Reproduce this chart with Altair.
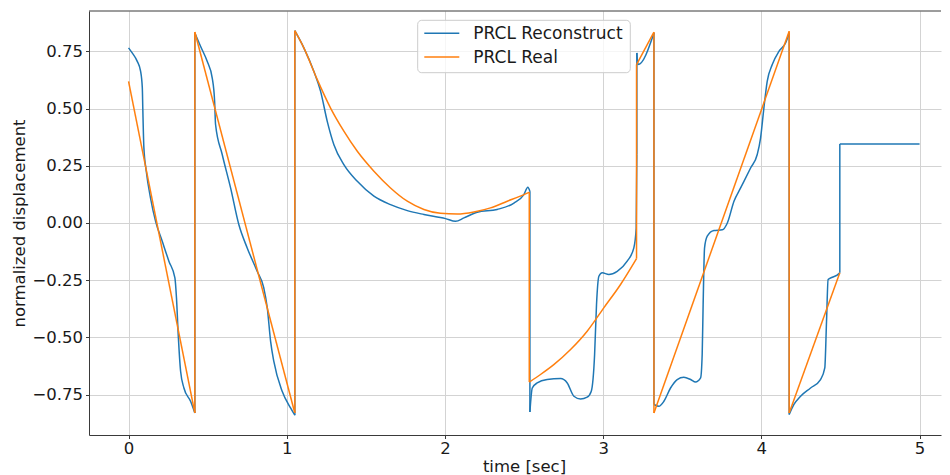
import altair as alt
import pandas as pd

# ---------------- data ----------------
SERIES = ["PRCL Reconstruct", "PRCL Real"]
COLORS = ["#1f77b4", "#ff7f0e"]

recon_t = [0.000, 0.023, 0.055, 0.076, 0.087, 0.090, 0.097, 0.112, 0.139, 0.171, 0.213, 0.255, 0.293, 0.303, 0.314, 0.329, 0.350, 0.392, 0.419,
           0.419, 0.455, 0.497, 0.529, 0.544, 0.550, 0.592, 0.645, 0.697, 0.750, 0.813, 0.855, 0.877, 0.898, 0.918, 0.971, 1.024, 1.051,
           1.051, 1.108, 1.171, 1.214, 1.256, 1.298, 1.361, 1.446, 1.551, 1.656, 1.762, 1.867, 2.004, 2.067, 2.120, 2.204, 2.330, 2.436, 2.499, 2.524, 2.537,
           2.537, 2.552, 2.583, 2.646, 2.731, 2.773, 2.815, 2.857, 2.899, 2.925, 2.946, 2.958, 2.973, 2.994, 3.036, 3.089, 3.152, 3.194, 3.209, 3.213, 3.213, 3.220, 3.321,
           3.321, 3.352, 3.384, 3.426, 3.468, 3.510, 3.553, 3.584, 3.616, 3.626, 3.632, 3.641, 3.658, 3.700, 3.753, 3.785, 3.827, 3.869, 3.932, 3.974, 3.995, 4.016, 4.037, 4.069, 4.111, 4.153, 4.176,
           4.176, 4.206, 4.248, 4.311, 4.374, 4.401, 4.412, 4.422, 4.448, 4.479, 4.496, 4.496, 5.000]
recon_v = [0.765, 0.743, 0.706, 0.663, 0.590, 0.502, 0.328, 0.226, 0.109, 0.007, -0.080, -0.167, -0.240, -0.328, -0.488, -0.648, -0.721, -0.779, -0.830,
           0.830, 0.772, 0.706, 0.633, 0.532, 0.430, 0.299, 0.153, -0.007, -0.109, -0.211, -0.284, -0.371, -0.517, -0.604, -0.735, -0.808, -0.840,
           0.840, 0.765, 0.663, 0.575, 0.444, 0.342, 0.255, 0.182, 0.117, 0.080, 0.054, 0.037, 0.019, 0.007, 0.022, 0.047, 0.059, 0.087, 0.124, 0.156, 0.138,
           -0.826, -0.721, -0.699, -0.684, -0.680, -0.699, -0.757, -0.769, -0.761, -0.735, -0.575, -0.357, -0.233, -0.218, -0.225, -0.211, -0.167, -0.109, -0.022, 0.299, 0.743, 0.692, 0.830,
           -0.793, -0.801, -0.779, -0.721, -0.684, -0.674, -0.684, -0.695, -0.677, -0.575, -0.357, -0.109, -0.058, -0.033, -0.030, 0.000, 0.095, 0.153, 0.240, 0.299, 0.371, 0.502, 0.619, 0.692, 0.750, 0.786, 0.830,
           -0.837, -0.793, -0.757, -0.721, -0.684, -0.633, -0.429, -0.247, -0.237, -0.228, -0.218, 0.345, 0.345]

real_t = [0.000, 0.419, 0.419, 1.051, 1.051, 1.108, 1.193, 1.277, 1.361, 1.446, 1.551, 1.656, 1.762, 1.867, 1.972, 2.078, 2.183, 2.288, 2.394, 2.499, 2.533,
          2.533, 2.604, 2.688, 2.794, 2.899, 3.004, 3.110, 3.211, 3.211, 3.321, 3.321, 4.176, 4.176, 4.496]
real_v = [0.619, -0.830, 0.834, -0.830, 0.840, 0.765, 0.626, 0.502, 0.401, 0.313, 0.226, 0.153, 0.095, 0.059, 0.042, 0.039, 0.048, 0.066, 0.095, 0.124, 0.134,
          -0.695, -0.662, -0.619, -0.553, -0.473, -0.371, -0.269, -0.156, 0.692, 0.834, -0.830, 0.837, -0.830, -0.218]

X_TICKS = [0, 1, 2, 3, 4, 5]
Y_TICKS = [-0.75, -0.50, -0.25, 0.00, 0.25, 0.50, 0.75]


def segmented(ts, vs, name):
    """Split a trace at its vertical jumps (equal consecutive t) so that smooth
    pieces can be drawn with monotone interpolation and jumps as straight lines."""
    rows = []
    seg = 0
    cur = []
    order = 0

    def flush(points):
        nonlocal seg, order
        if len(points) >= 2:
            for (t, v) in points:
                rows.append({"t": t, "v": v, "series": name, "seg": seg, "i": order})
                order += 1
            seg += 1

    for k in range(len(ts)):
        cur.append((ts[k], vs[k]))
        if k + 1 < len(ts) and ts[k + 1] == ts[k]:
            flush(cur)
            flush([(ts[k], vs[k]), (ts[k + 1], vs[k + 1])])
            cur = []
    flush(cur)
    return pd.DataFrame(rows)


recon_df = segmented(recon_t, recon_v, SERIES[0])
real_df = segmented(real_t, real_v, SERIES[1])

# ---------------- layout ----------------
W = 852            # plot width  (px)
H = 424            # plot height (px)
PX_PER_X = 158.2
PX_PER_Y = 228.9
x_dom = [-0.25, -0.25 + W / PX_PER_X]
y_top = 0.926
y_dom = [y_top - H / PX_PER_Y, y_top]

FONT = "DejaVu Sans"
AXFS = 16.5
TXT = "#1a1a1a"
SPINE = "#3a3a3a"

x_enc = alt.X("t:Q", scale=alt.Scale(domain=x_dom, nice=False, zero=False),
              axis=alt.Axis(values=X_TICKS, format="d", title="time [sec]",
                            titleX=435, titleY=36, titleAlign="center", titleBaseline="alphabetic",
                            labelPadding=2))
y_enc = alt.Y("v:Q", scale=alt.Scale(domain=y_dom, nice=False, zero=False),
              axis=alt.Axis(values=Y_TICKS, format=".2f", title="normalized displacement",
                            labelPadding=3, titlePadding=4))
color_enc = alt.Color("series:N", scale=alt.Scale(domain=SERIES, range=COLORS), legend=None)

recon = alt.Chart(recon_df).mark_line(strokeWidth=1.5, clip=True, interpolate="monotone").encode(
    x=x_enc, y=y_enc, color=color_enc, detail="seg:N", order="i:Q")
real = alt.Chart(real_df).mark_line(strokeWidth=1.5, clip=True, interpolate="monotone").encode(
    x=x_enc, y=y_enc, color=color_enc, detail="seg:N", order="i:Q")

one = pd.DataFrame({"k": [0]})
top_spine = alt.Chart(one).mark_rule(color=SPINE, strokeWidth=1).encode(
    x=alt.value(0), x2=alt.value(W), y=alt.value(0))

# legend (matplotlib style box, upper centre)
LEG_X0, LEG_X1, LEG_Y0, LEG_Y1 = 328.7, 541.3, 9.3, 61.7
legend_box = alt.Chart(one).mark_rect(fill="white", fillOpacity=0.8, stroke="#cccccc",
                                      strokeWidth=1, cornerRadius=4).encode(
    x=alt.value(LEG_X0), x2=alt.value(LEG_X1), y=alt.value(LEG_Y0), y2=alt.value(LEG_Y1))
legend_parts = [legend_box]
for k, name in enumerate(SERIES):
    row_mid = 22.3 + 23.7 * k
    legend_parts.append(alt.Chart(one).mark_rule(color=COLORS[k], strokeWidth=1.5).encode(
        x=alt.value(335.3), x2=alt.value(370.3), y=alt.value(row_mid)))
    legend_parts.append(alt.Chart(one).mark_text(align="left", baseline="alphabetic", font=FONT,
                                                 fontSize=17, color=TXT).encode(
        x=alt.value(384.3), y=alt.value(row_mid + 6), text=alt.value(name)))

chart = alt.layer(recon, real, top_spine, *legend_parts).properties(
    width=W, height=H,
    padding={"left": 3, "top": 2, "right": 0, "bottom": 0},
).configure_view(stroke=None).configure_axis(
    labelFont=FONT, labelFontSize=AXFS, labelColor=TXT,
    titleFont=FONT, titleFontSize=AXFS, titleFontWeight="normal", titleColor=TXT,
    domainColor=SPINE, domainWidth=1, tickColor=SPINE, tickSize=3.5, tickWidth=1,
    gridColor="#d3d3d3", gridWidth=1,
)

chart.save("out.html", embed_options={"renderer": "svg", "actions": False})
